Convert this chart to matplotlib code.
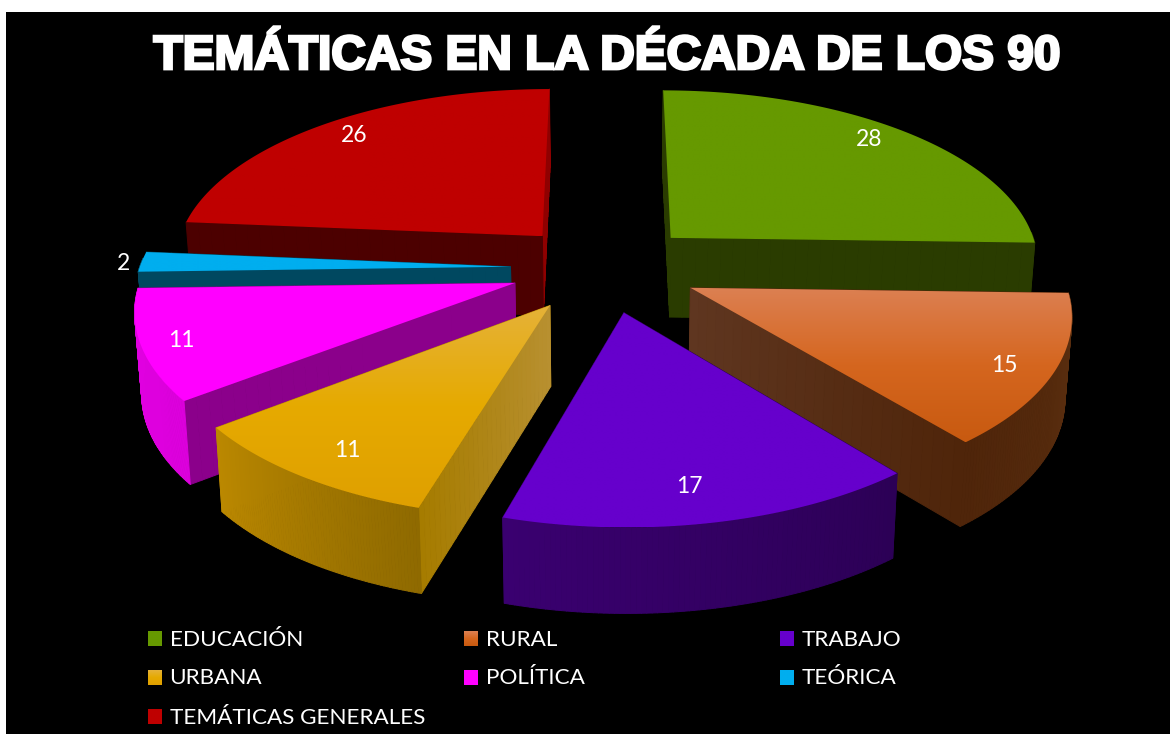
#!/usr/bin/env python3
"""exploded 3d-look pie of themes in the 90s, drawn with perspective polygons."""

import matplotlib
matplotlib.use("Agg")

import matplotlib.colors as mcolors
import matplotlib.patheffects as pe
import matplotlib.pyplot as plt
import numpy as np
from matplotlib.collections import PolyCollection
from matplotlib.patches import Polygon, Rectangle

TITLE = "TEMÁTICAS EN LA DÉCADA DE LOS 90"
categories = ["EDUCACIÓN", "RURAL", "TRABAJO", "URBANA", "POLÍTICA", "TEÓRICA",
              "TEMÁTICAS GENERALES"]
values = [28, 15, 17, 11, 11, 2, 26]

# top face gradient, upper to lower
top_colors = [("#669900", "#669900"), ("#DC8052", "#D5661F", "#C85A10"), ("#6600CC", "#6600CC"),
              ("#E5B238", "#E6AA00", "#DFA000"), ("#FF00FF", "#FF00FF"), ("#00AEEF", "#00AEEF"),
              ("#BF0000", "#BF0000")]
# outer wall, start to end of the arc
wall_colors = [("#2A3C00", "#2A3C00"), ("#5C3010", "#4F250A"), ("#2C0056", "#3A0070"),
               ("#8F6A00", "#BB8800"), ("#DD00DD", "#E000E0"), ("#004860", "#004860"),
               ("#4C0000", "#4C0000")]
# radial walls, (apex, rim)
start_face = [("#2A3C00", "#2A3C00"), ("#4F250A", "#4F250A"), ("#2C0056", "#2C0056"),
              ("#B89030", "#A67C00"), ("#8B008B", "#8B008B"), ("#004860", "#004860"),
              ("#4C0000", "#4C0000")]
end_face = [("#2A3C00", "#2A3C00"), ("#5F3620", "#4F250A"), ("#3A0070", "#3A0070"),
            ("#BB8800", "#BB8800"), ("#8B008B", "#8B008B"), ("#004860", "#004860"),
            ("#8F0000", "#8F0000")]

draw_order = [6, 0, 5, 4, 1, 3, 2]
label_radius = [0.932, 0.911, 0.842, 0.856, 0.903, 1.044, 0.907]
label_nudge = [-20, -16, -9, 7, 3, -2, 12]

# projection fitted to the picture
CX, CY = 604.6, 268
SCALE_X, SCALE_Y = 371, 174
PERSP = 0.13
EXPLODE = 0.254
DEPTH = 80


def project(x, v):
    """world disc coords (v up, away from viewer) to pixel coords."""
    w = 1 + PERSP * v
    return CX + SCALE_X * x / w, CY - SCALE_Y * v / w


def project_low(x, v):
    """same point on the lower face of the extruded disc."""
    sx, sy = project(x, v)
    return CX + (sx - CX) * 0.985, sy + DEPTH * (1 - 0.06 * v)


def mix(pair, t):
    a, b = (np.array(mcolors.to_rgb(c)) for c in pair)
    return tuple(a + (b - a) * t)


def draw_strips(ax, top_pts, low_pts, colors, z):
    n = len(top_pts[0]) - 1
    polys, cols = [], []
    for k in range(n):
        polys.append([(top_pts[0][k], top_pts[1][k]), (top_pts[0][k + 1], top_pts[1][k + 1]),
                      (low_pts[0][k + 1], low_pts[1][k + 1]), (low_pts[0][k], low_pts[1][k])])
        cols.append(mix(colors, k / max(n - 1, 1)))
    # wide edges so the strip seams don't show
    ax.add_collection(PolyCollection(polys, facecolors=cols, edgecolors=cols,
                                     linewidths=0.7, zorder=z))


def draw_slice(ax, i, a0, a1, z):
    mid = (a0 + a1) / 2
    ox, ov = EXPLODE * np.sin(mid), EXPLODE * np.cos(mid)
    theta = np.linspace(a0, a1, 80)
    arc_x, arc_v = ox + np.sin(theta), ov + np.cos(theta)

    # radial walls, the one further back first
    radial = np.linspace(0, 1, 30)
    faces = [(a0, start_face[i]), (a1, end_face[i])]
    faces.sort(key=lambda f: -np.cos(f[0]))
    for ang, colors in faces:
        rx, rv = ox + radial * np.sin(ang), ov + radial * np.cos(ang)
        draw_strips(ax, project(rx, rv), project_low(rx, rv), colors, z)

    # outer wall only where it faces the viewer
    front = np.cos(theta) < 0.05
    if front.sum() > 1:
        draw_strips(ax, project(arc_x[front], arc_v[front]),
                    project_low(arc_x[front], arc_v[front]), wall_colors[i], z + 0.1)

    # top face with vertical gradient clipped to the slice
    sx, sy = project(np.r_[ox, arc_x], np.r_[ov, arc_v])
    outline = Polygon(np.c_[sx, sy], closed=True, facecolor="none", edgecolor="none",
                      transform=ax.transData)
    ax.add_patch(outline)
    grad = np.linspace(0, 1, 128)[:, None]
    cmap = mcolors.LinearSegmentedColormap.from_list("top", list(top_colors[i]))
    im = ax.imshow(grad, cmap=cmap, aspect="auto", zorder=z + 0.2, interpolation="bilinear",
                   extent=(sx.min(), sx.max(), sy.max(), sy.min()))
    im.set_clip_path(outline)


fig = plt.figure(figsize=(11.7, 7.34), dpi=100, facecolor="white")
ax = fig.add_axes([0, 0, 1, 1])
ax.axis("off")
ax.add_patch(Rectangle((6, 12), 1164, 722, facecolor="black", edgecolor="none", zorder=0))

angles = np.r_[0, np.cumsum(values)] / np.sum(values) * 2 * np.pi
for n, i in enumerate(draw_order):
    draw_slice(ax, i, angles[i], angles[i + 1], 2 + n)

# data labels
for i, val in enumerate(values):
    mid = (angles[i] + angles[i + 1]) / 2
    r = EXPLODE + label_radius[i]
    lx, ly = project(r * np.sin(mid), r * np.cos(mid))
    ax.text(lx + label_nudge[i], ly + 1.5, str(val), color="white", fontsize=16.5, family="Lato",
            ha="center", va="center", zorder=20)

ax.text(607, 69, TITLE, color="white", fontsize=34.4, family="Liberation Sans", weight="bold",
        ha="center", va="baseline", zorder=20,
        path_effects=[pe.withStroke(linewidth=2.0, foreground="white", joinstyle="miter")])

# legend, three columns filled row by row
for i, name in enumerate(categories):
    col, row = i % 3, i // 3
    lx, ly = 148 + 316 * col, 639 + 39 * row
    grad = np.linspace(0, 1, 32)[:, None]
    cmap = mcolors.LinearSegmentedColormap.from_list("leg", list(top_colors[i]))
    ax.imshow(grad, cmap=cmap, aspect="auto", zorder=20,
              extent=(lx, lx + 14, ly + 7.5, ly - 7.5))
    ax.text(lx + 21.5, ly + 0.5, name, color="white", fontsize=16.2, family="Lato",
            ha="left", va="center", zorder=20)

ax.set_xlim(0, 1170)
ax.set_ylim(734, 0)
fig.savefig("out.png", dpi=100, facecolor="white")
plt.close(fig)
